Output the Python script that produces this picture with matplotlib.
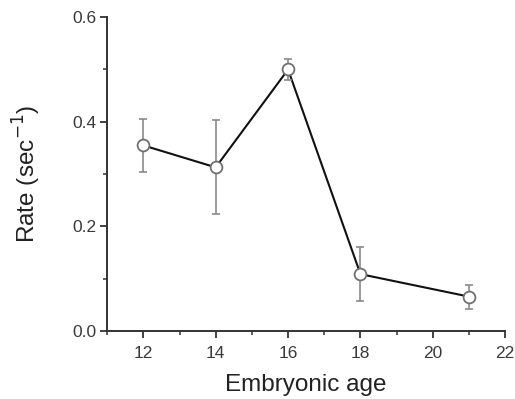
import matplotlib
matplotlib.use('Agg')
import matplotlib.pyplot as plt
from matplotlib.ticker import MultipleLocator

plt.rcParams['font.family'] = ['Liberation Sans', 'DejaVu Sans']

# values
ages = [12, 14, 16, 18, 21]
rates = [0.355, 0.313, 0.500, 0.109, 0.066]
errors = [0.051, 0.090, 0.021, 0.051, 0.023]

fig = plt.figure(figsize=(5.15, 3.99), dpi=100)
ax = fig.add_axes([0.208, 0.170, 0.773, 0.787])

ax.plot(ages, rates, color='#111111', lw=1.5, zorder=2)
ax.errorbar(ages, rates, yerr=errors, fmt='none', ecolor='#8a8a8a',
            elinewidth=1.2, capsize=3, capthick=1.2, zorder=3)
ax.plot(ages, rates, 'o', ms=8.5, mfc='white', mec='#707070', mew=1.3,
        zorder=4)

ax.set_xlim(11, 22)
ax.set_ylim(0, 0.6)
ax.xaxis.set_major_locator(MultipleLocator(2))
ax.xaxis.set_minor_locator(MultipleLocator(1))
ax.yaxis.set_major_locator(MultipleLocator(0.2))
ax.yaxis.set_minor_locator(MultipleLocator(0.1))
ax.yaxis.set_major_formatter(plt.FormatStrFormatter('%.1f'))

for side in ['top', 'right']:
    ax.spines[side].set_visible(False)
for side in ['left', 'bottom']:
    ax.spines[side].set_linewidth(1.4)
    ax.spines[side].set_color('#333333')

ax.tick_params(which='major', direction='out', length=5, width=1.3,
               colors='#333333', labelsize=12.5, labelcolor='#3a3a3a')
ax.tick_params(axis='y', which='major', pad=3)
ax.tick_params(axis='x', which='major', pad=6)
ax.tick_params(which='minor', direction='out', length=3, width=1.1,
               colors='#333333')

ax.set_xlabel('Embryonic age', fontsize=17.5, color='#222222', labelpad=9)
ax.set_ylabel('Rate (sec$^{-1}$)', fontsize=17.5, color='#222222', labelpad=21)

fig.savefig('out.png', dpi=100)
